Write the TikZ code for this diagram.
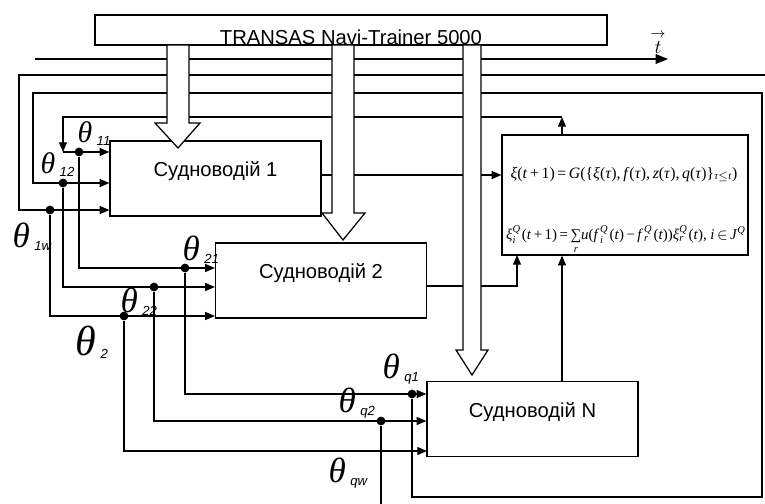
\RequirePackage{fix-cm}
\documentclass[tikz,border=0pt]{standalone}
\usepackage{amstext}
\usepackage[no-math]{fontspec}
\setmainfont{Liberation Sans}
\newfontfamily\thfont{Liberation Serif}
\usetikzlibrary{arrows.meta}
\newcommand{\thsub}[1]{\kern2.5pt\raisebox{-2pt}{\normalfont\fontsize{7.5}{8}\selectfont\itshape #1}}

\begin{document}
\begin{tikzpicture}[
x=0.02cm, y=-0.02cm,
line width=0.7pt,
arr/.style={-{Triangle[length=5.5pt,width=4.5pt]}},
ship/.style={
draw,
inner sep=0pt,
minimum width=4.22cm,
minimum height=1.5cm,
text height=8.2pt,
text depth=10.4pt,
font=\fontsize{11.5}{12}\selectfont
},
dot/.style={circle, fill, inner sep=0pt, minimum size=5pt},
theta/.style={inner sep=0pt, anchor=base west, font=\thfont\itshape\fontsize{20}{20}\selectfont},
thetas/.style={theta, font=\thfont\itshape\fontsize{17}{17}\selectfont},
thetab/.style={theta, font=\thfont\itshape\fontsize{24}{24}\selectfont},
formula/.style={inner sep=0pt, anchor=base, font=\thfont\fontsize{9}{10}\selectfont},
hollow/.style={draw, fill=white}
]
\useasboundingbox (0,0) rectangle (765,504);

% blocks
\node[draw, inner sep=0pt, minimum width=10.24cm, minimum height=0.6cm,
  text height=16pt, text depth=0pt, font=\fontsize{11.5}{12}\selectfont]
  (trans) at (351,30) {TRANSAS Navi-Trainer 5000};
\node[ship] (b1) at (215.5,178.5) {Судноводій 1};
\node[ship] (b2) at (321,280.5) {Судноводій 2};
\node[ship] (bN) at (532.5,419) {Судноводій N};
\node[draw, minimum width=4.92cm, minimum height=2.4cm] (xi) at (625,195) {};

\node[formula] (f1) at (624,178)
  {\textit{ξ}(\textit{t}\,+\,1)\,=\,\textit{G}(\{\textit{ξ}(\textit{τ}),\,\textit{f}(\textit{τ}),\,\textit{z}(\textit{τ}),\,\textit{q}(\textit{τ})\}$_{\textit{τ}\le\textit{t}}$)};
\node[formula, font=\thfont\fontsize{8.5}{10}\selectfont] (f2) at (626,239)
  {\textit{ξ}$_{\textit{i}}^{\textit{Q}}$\kern0.5pt(\textit{t}\,+\,1)\,=\,$\mathop{\hbox{∑}}\limits_{\textit{r}}$\textit{u}(\textit{f}\kern0.4pt$_{\textit{i}}^{\textit{Q}}$\kern0.6pt(\textit{t})\,−\,\textit{f}\kern0.4pt$_{\textit{r}}^{\textit{Q}}$\kern0.6pt(\textit{t}))\textit{ξ}$_{\textit{r}}^{\textit{Q}}$\kern0.5pt(\textit{t}), \textit{i}\,$\in$\,\textit{J}$^{\textit{Q}}$};

\node[font=\fontsize{11}{12}\selectfont] (tl) at (658,42) {$\stackrel{\rightarrow}{t}$};

% dots
\node[dot] (d11) at (79,152) {};
\node[dot] (d12) at (63,183) {};
\node[dot] (d1w) at (50,210) {};
\node[dot] (d21) at (185,268) {};
\node[dot] (d22) at (154,287) {};
\node[dot] (d2) at (124,316) {};
\node[dot] (dq1) at (412,394) {};
\node[dot] (dq2) at (381,421) {};

% labels
\node[thetas] (th11) at (77,142) {θ\thsub{11}};
\node[thetas] (th12) at (40,173) {θ\thsub{12}};
\node[theta] (th1w) at (12,247) {θ\thsub{1w}};
\node[theta] (th21) at (182,260) {θ\thsub{21}};
\node[theta] (th22) at (120,312) {θ\thsub{22}};
\node[thetab] (th2) at (75,355) {θ\thsub{2}};
\node[theta] (thq1) at (382,378) {θ\thsub{q1}};
\node[theta] (thq2) at (338,412) {θ\thsub{q2}};
\node[theta] (thqw) at (328,482) {θ\thsub{qw}};

\coordinate (t0) at (35,59);
\coordinate (t1) at (668,59);
\coordinate (r75) at (765,75);
\coordinate (fb) at (562,117);
\coordinate (fc) at (63,152);
\coordinate (out1) at (321,175);
\coordinate (out2) at (427,286);
\coordinate (up2) at (517,255);
\coordinate (in3) at (427,451);
\coordinate (qend) at (381,504);

\draw[-{Triangle[length=7pt,width=5.5pt]}] (t0) -- (t1);
\draw[arr] (r75) -| (19,210) -- (b1.west |- d1w);
\draw[arr] (dq1) |- (762,497) |- (33,93) |- (b1.west |- d12);
\draw[arr] (xi.north -| fb) -- (fb);
\draw[arr] (fb) -| (fc);
\draw[arr] (fc) -- (b1.west |- fc);

\draw[arr] (out1) -- (xi.west |- out1);
\draw[arr] (out2) -| (up2);
\draw[arr] (bN.north -| fb) -- (xi.south -| fb);

\draw[arr] (d11) |- (b2.west |- d21);
\draw[arr] (d12) |- (b2.west |- d22);
\draw[arr] (d1w) |- (b2.west |- d2);
\draw[arr] (d21) |- (bN.west |- dq1);
\draw[arr] (d22) |- (bN.west |- dq2);
\draw[arr] (d2) |- (in3);
\draw (dq2) -- (qend);

% hollow arrows from the simulator
\draw[hollow] (167,45) -- (167,123) -- (155,123) -- (178,148) -- (200,123) -- (189,123) -- (189,45) -- cycle;
\draw[hollow] (332,45) -- (332,213) -- (322,213) -- (343,240) -- (365,213) -- (354,213) -- (354,45) -- cycle;
\draw[hollow] (463,45) -- (463,350) -- (456,350) -- (472,375) -- (488,350) -- (481,350) -- (481,45) -- cycle;

\end{tikzpicture}
\end{document}
